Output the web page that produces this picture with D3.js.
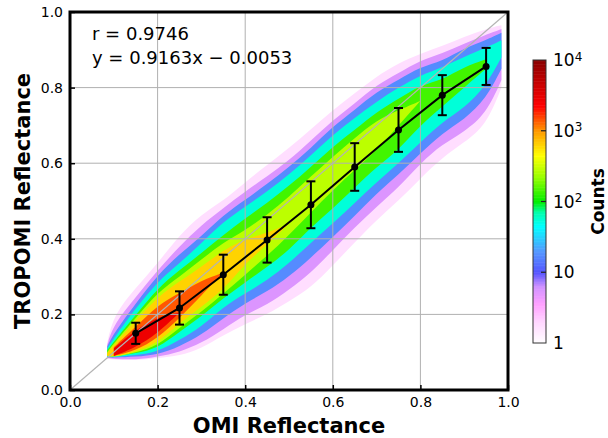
<!DOCTYPE html>
<html>
<head>
<meta charset="utf-8">
<script src="https://cdn.jsdelivr.net/npm/d3@7"></script>
<style>
body { margin: 0; background: #fff; }
text { font-family: "DejaVu Sans", sans-serif; fill: #000; }
</style>
</head>
<body>
<div class="chart"></div>
<script>
// DATA ------------------------------
// density contours: for each count level, the lower and
// upper edge (TROPOMI reflectance) of the region with at least that many counts
const bandX = [0.085, 0.1, 0.15, 0.2, 0.25, 0.3, 0.35, 0.4, 0.45, 0.5, 0.55, 0.6, 0.65, 0.7, 0.75, 0.8, 0.85, 0.9, 0.95, 0.985];
const levelCounts = [1, 3, 10, 30, 100, 200, 400, 1000, 2000];

const lo1    = [0.083, 0.080, 0.078, 0.085, 0.090, 0.110, 0.145, 0.175, 0.200, 0.235, 0.270, 0.330, 0.390, 0.450, 0.500, 0.560, 0.615, 0.655, 0.700, 0.800];
const hi1    = [0.125, 0.200, 0.270, 0.335, 0.410, 0.465, 0.500, 0.550, 0.595, 0.640, 0.690, 0.740, 0.785, 0.830, 0.865, 0.890, 0.910, 0.935, 0.955, 0.965];
const lo3    = [0.084, 0.082, 0.080, 0.088, 0.100, 0.124, 0.160, 0.200, 0.225, 0.265, 0.310, 0.370, 0.430, 0.485, 0.535, 0.600, 0.650, 0.683, 0.730, 0.820];
const hi3    = [0.120, 0.175, 0.245, 0.317, 0.380, 0.437, 0.481, 0.525, 0.565, 0.607, 0.660, 0.714, 0.758, 0.807, 0.838, 0.873, 0.890, 0.917, 0.940, 0.955];
const lo10   = [0.086, 0.085, 0.088, 0.093, 0.115, 0.146, 0.190, 0.230, 0.260, 0.300, 0.350, 0.405, 0.460, 0.520, 0.570, 0.626, 0.680, 0.715, 0.770, 0.850];
const hi10   = [0.115, 0.150, 0.229, 0.304, 0.360, 0.406, 0.463, 0.503, 0.545, 0.590, 0.640, 0.697, 0.741, 0.789, 0.820, 0.855, 0.870, 0.904, 0.926, 0.945];
const lo30   = [0.088, 0.087, 0.092, 0.101, 0.132, 0.167, 0.220, 0.255, 0.290, 0.335, 0.390, 0.440, 0.495, 0.550, 0.600, 0.655, 0.710, 0.745, 0.805, 0.880];
const hi30   = [0.110, 0.137, 0.216, 0.287, 0.335, 0.388, 0.445, 0.485, 0.525, 0.570, 0.620, 0.675, 0.720, 0.763, 0.800, 0.833, 0.853, 0.882, 0.905, 0.925];
const lo100  = [0.090, 0.088, 0.097, 0.110, 0.154, 0.194, 0.243, 0.285, 0.325, 0.370, 0.430, 0.480, 0.535, 0.590, 0.635, 0.700, 0.750, 0.800, 0.850, null];
const hi100  = [0.105, 0.128, 0.198, 0.269, 0.317, 0.362, 0.410, 0.454, 0.495, 0.540, 0.590, 0.644, 0.688, 0.736, 0.770, 0.807, 0.820, 0.855, 0.875, null];
const lo200  = [0.090, 0.087, 0.099, 0.117, 0.165, 0.207, 0.255, 0.305, 0.355, 0.410, 0.470, 0.529, 0.582, 0.635, 0.700, 0.765, null, null, null, null];
const hi200  = [0.100, 0.123, 0.190, 0.258, 0.300, 0.345, 0.390, 0.423, 0.463, 0.511, 0.565, 0.617, 0.666, 0.714, 0.740, 0.765, null, null, null, null];
const lo400  = [0.090, 0.088, 0.101, 0.124, 0.177, 0.220, 0.265, 0.335, 0.385, 0.440, null, null, null, null, null, null, null, null, null, null];
const hi400  = [0.098, 0.119, 0.183, 0.247, 0.287, 0.326, 0.370, 0.400, 0.415, 0.440, null, null, null, null, null, null, null, null, null, null];
const lo1000 = [null, 0.090, 0.104, 0.137, 0.190, 0.250, 0.310, null, null, null, null, null, null, null, null, null, null, null, null, null];
const hi1000 = [null, 0.113, 0.167, 0.225, 0.256, 0.290, 0.310, null, null, null, null, null, null, null, null, null, null, null, null, null];
const lo2000 = [null, 0.090, 0.113, 0.150, 0.205, null, null, null, null, null, null, null, null, null, null, null, null, null, null, null];
const hi2000 = [null, 0.110, 0.159, 0.194, 0.205, null, null, null, null, null, null, null, null, null, null, null, null, null, null, null];

const bandLo = [lo1, lo3, lo10, lo30, lo100, lo200, lo400, lo1000, lo2000];
const bandHi = [hi1, hi3, hi10, hi30, hi100, hi200, hi400, hi1000, hi2000];

// binned means and standard deviations (black line + error bars)
const binX    = [0.15, 0.25, 0.35, 0.45, 0.55, 0.65, 0.75, 0.85, 0.95];
const binMean = [0.150, 0.217, 0.305, 0.397, 0.490, 0.590, 0.688, 0.780, 0.856];
const binStd  = [0.028, 0.044, 0.053, 0.060, 0.062, 0.063, 0.058, 0.053, 0.049];

const axisTicks = [0, 0.2, 0.4, 0.6, 0.8, 1.0];
const gridTicks = [0.2, 0.4, 0.6, 0.8];
const cbarTicks = [1, 10, 100, 1000, 10000];
const statText = ["r = 0.9746", "y = 0.9163x \u2212 0.0053"];

// colour map (log10 counts -> colour)
const cmapStops  = [0, 0.3, 0.55, 0.8, 1.0, 1.3, 1.65, 1.85, 2.0, 2.35, 2.65, 3.0, 3.35, 3.65, 4.0];
const cmapColors = ["#ffffff", "#ffd6ff", "#ffa0ff", "#d092ff", "#5555ff", "#5599ff", "#00ffff", "#00ffaa", "#00ee00",
                    "#99ff00", "#ffff00", "#ff9900", "#ff0000", "#cc0000", "#880000"];

// CHART INIT ------------------------------
const margin = ({top: 12, right: 100, bottom: 48, left: 70}),
    width = 608 - margin.left - margin.right,
    height = 438 - margin.top - margin.bottom;

const svg = d3.select(".chart").append("svg")
    .attr("width", 608)
    .attr("height", 438)
    .append("g")
    .attr("transform", "translate(" + margin.left + "," + margin.top + ")");

const xScale = d3.scaleLinear().domain([0, 1]).range([0, width]);
const yScale = d3.scaleLinear().domain([0, 1]).range([height, 0]);
const colour = d3.scaleLinear().domain(cmapStops).range(cmapColors).clamp(true);

svg.append("clipPath").attr("id", "plot-clip")
    .append("rect").attr("width", width).attr("height", height);

// density bands, lowest level first
const area = d3.area()
    .defined(d => d.lo != null)
    .x(d => xScale(d.x))
    .y0(d => yScale(d.lo))
    .y1(d => yScale(d.hi))
    .curve(d3.curveBasis);

const logLevels = levelCounts.map(c => Math.log10(c));
const density = svg.append("g").attr("clip-path", "url(#plot-clip)");
bandLo.forEach(function(lo, i) {
    const next = i < logLevels.length - 1 ? logLevels[i + 1] : logLevels[i] + 0.3;
    const pts = bandX.map((x, j) => ({x: x, lo: lo[j], hi: bandHi[i][j]}));
    density.append("path")
        .datum(pts)
        .attr("d", area)
        .attr("fill", colour((logLevels[i] + next) / 2));
});

// grid
svg.append("g").selectAll("line.vg").data(gridTicks).enter().append("line")
    .attr("x1", d => xScale(d)).attr("x2", d => xScale(d))
    .attr("y1", 0).attr("y2", height)
    .attr("stroke", "#b0b0b0").attr("stroke-width", 1);
svg.append("g").selectAll("line.hg").data(gridTicks).enter().append("line")
    .attr("x1", 0).attr("x2", width)
    .attr("y1", d => yScale(d)).attr("y2", d => yScale(d))
    .attr("stroke", "#b0b0b0").attr("stroke-width", 1);

// 1:1 line
svg.append("line")
    .attr("x1", xScale(0)).attr("y1", yScale(0))
    .attr("x2", xScale(1)).attr("y2", yScale(1))
    .attr("stroke", "#b4b4b4").attr("stroke-width", 1.2);

// axes
const xAxis = svg.append("g")
    .attr("transform", "translate(0," + height + ")")
    .call(d3.axisBottom(xScale).tickValues(axisTicks).tickFormat(d3.format(".1f")).tickSize(-5).tickPadding(7));
const yAxis = svg.append("g")
    .call(d3.axisLeft(yScale).tickValues(axisTicks).tickFormat(d3.format(".1f")).tickSize(-5).tickPadding(7));
[xAxis, yAxis].forEach(function(ax) {
    ax.select(".domain").remove();
    ax.selectAll(".tick line").attr("stroke", "#000").attr("stroke-width", 1.5);
    ax.selectAll(".tick text").attr("font-size", 14).attr("font-family", "DejaVu Sans").attr("fill", "#000");
});

// frame
svg.append("rect")
    .attr("width", width).attr("height", height)
    .attr("fill", "none").attr("stroke", "#000").attr("stroke-width", 3);

// mean line and error bars
svg.append("path")
    .datum(binX.map((x, i) => [x, binMean[i]]))
    .attr("d", d3.line().x(d => xScale(d[0])).y(d => yScale(d[1])))
    .attr("fill", "none").attr("stroke", "#000").attr("stroke-width", 2);

const bars = svg.append("g").selectAll("g").data(binX).enter().append("g");
bars.append("line")
    .attr("x1", d => xScale(d)).attr("x2", d => xScale(d))
    .attr("y1", (d, i) => yScale(binMean[i] - binStd[i]))
    .attr("y2", (d, i) => yScale(binMean[i] + binStd[i]))
    .attr("stroke", "#000").attr("stroke-width", 2);
bars.selectAll("line.cap").data((d, i) => [[d, binMean[i] - binStd[i]], [d, binMean[i] + binStd[i]]])
    .enter().append("line")
    .attr("x1", d => xScale(d[0]) - 4.5).attr("x2", d => xScale(d[0]) + 4.5)
    .attr("y1", d => yScale(d[1])).attr("y2", d => yScale(d[1]))
    .attr("stroke", "#000").attr("stroke-width", 2);
bars.append("circle")
    .attr("cx", d => xScale(d))
    .attr("cy", (d, i) => yScale(binMean[i]))
    .attr("r", 3.5).attr("fill", "#000");

// statistics text
svg.selectAll("text.stat").data(statText).enter().append("text")
    .attr("x", 22).attr("y", (d, i) => 27.5 + i * 24)
    .attr("font-size", 18)
    .text(d => d);

// axis titles
svg.append("text")
    .attr("x", width / 2).attr("y", height + 43)
    .attr("text-anchor", "middle").attr("font-size", 21).attr("font-weight", "bold")
    .text("OMI Reflectance");
svg.append("text")
    .attr("transform", "translate(-40," + (height / 2) + ") rotate(-90)")
    .attr("text-anchor", "middle").attr("font-size", 21).attr("font-weight", "bold")
    .text("TROPOMI Reflectance");

// COLOUR BAR ------------------------------
const cbX = 463, cbW = 13;
const cbScale = d3.scaleLog().domain([1, 10000]).range([331, 48]);
const cbar = svg.append("g");
const steps = d3.range(0, 4.001, 0.02);
cbar.selectAll("rect").data(steps).enter().append("rect")
    .attr("x", cbX).attr("width", cbW)
    .attr("y", d => cbScale(Math.pow(10, Math.min(d + 0.02, 4))))
    .attr("height", d => cbScale(Math.pow(10, d)) - cbScale(Math.pow(10, Math.min(d + 0.02, 4))) + 0.5)
    .attr("fill", d => colour(d + 0.01));
cbar.append("rect")
    .attr("x", cbX).attr("y", cbScale(10000))
    .attr("width", cbW).attr("height", cbScale(1) - cbScale(10000))
    .attr("fill", "none").attr("stroke", "#333").attr("stroke-width", 1);
cbar.selectAll("line.tk").data(cbarTicks.slice(1, 4)).enter().append("line")
    .attr("x1", cbX + cbW - 5).attr("x2", cbX + cbW)
    .attr("y1", d => cbScale(d)).attr("y2", d => cbScale(d))
    .attr("stroke", "#222").attr("stroke-width", 1.2);
const cbLabels = cbar.selectAll("text.cbl").data(cbarTicks).enter().append("text")
    .attr("x", cbX + cbW + 7)
    .attr("y", d => cbScale(d))
    .attr("dy", "0.36em")
    .attr("font-size", 17);
cbLabels.each(function(d) {
    const e = Math.round(Math.log10(d));
    const t = d3.select(this);
    if (e === 0) t.text("1");
    else if (e === 1) t.text("10");
    else {
        t.append("tspan").text("10");
        t.append("tspan").attr("dy", "-0.45em").attr("font-size", 12).text(e);
    }
});
svg.append("text")
    .attr("transform", "translate(" + (534) + "," + ((cbScale(1) + cbScale(10000)) / 2) + ") rotate(-90)")
    .attr("text-anchor", "middle").attr("font-size", 17).attr("font-weight", "bold")
    .text("Counts");
</script>
</body>
</html>
